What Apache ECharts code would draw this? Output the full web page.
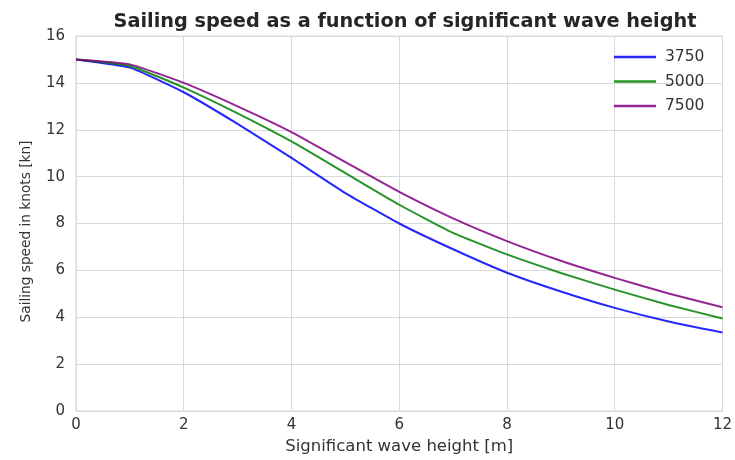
<!DOCTYPE html>
<html>
<head>
<meta charset="utf-8">
<script src="https://cdn.jsdelivr.net/npm/echarts@6/dist/echarts.min.js"></script>
<style>
  html, body { margin: 0; padding: 0; background: #fff; }
  #chart { width: 735px; height: 460px; }
</style>
</head>
<body>
<div id="chart"></div>
<script>
// wave height [m]
const waveHeight = [0, 1, 2, 3, 4, 5, 6, 7, 8, 9, 10, 11, 12]
const seriesNames = ['3750', '5000', '7500']
// sailing speed [kn]
const speed3750 = [15.0, 14.65, 13.6, 12.25, 10.8, 9.3, 8.0, 6.9, 5.9, 5.1, 4.4, 3.82, 3.35]
const speed5000 = [15.0, 14.72, 13.8, 12.7, 11.5, 10.15, 8.8, 7.6, 6.68, 5.89, 5.18, 4.52, 3.95]
const speed7500 = [15.0, 14.79, 14.0, 13.0, 11.9, 10.62, 9.35, 8.22, 7.25, 6.41, 5.68, 5.01, 4.43]
const lineColors = ['rgba(0,0,255,0.85)', 'rgba(0,128,0,0.85)', 'rgba(128,0,128,0.85)']

const pairs = arr => waveHeight.map((x, i) => [x, arr[i]])
const font = 'DejaVu Sans, sans-serif'
const gridColor = '#d9d9d9'

const chart = echarts.init(document.getElementById('chart'))

chart.setOption({
  animation: false,
  textStyle: { fontFamily: font },
  title: {
    text: 'Sailing speed as a function of significant wave height',
    left: 400,
    top: 7,
    textAlign: 'center',
    textStyle: { fontFamily: font, fontSize: 19.3, fontWeight: 'bold', color: '#262626' }
  },
  legend: {
    orient: 'vertical',
    left: 609,
    top: 43,
    icon: 'rect',
    itemWidth: 42,
    itemHeight: 2.5,
    itemGap: 6.5,
    textStyle: { fontFamily: font, fontSize: 15.5, color: '#333', lineHeight: 18, padding: [0, 0, 0, 4] },
    data: seriesNames
  },
  grid: { left: 76, right: 11, top: 36, bottom: 46, show: true, borderColor: gridColor, borderWidth: 1 },
  xAxis: {
    type: 'value',
    min: 0, max: 12, interval: 2,
    name: 'Significant wave height [m]',
    nameLocation: 'middle',
    nameGap: 27,
    nameTextStyle: { fontFamily: font, fontSize: 16.5, color: '#333' },
    axisLine: { show: true, lineStyle: { color: gridColor } },
    axisTick: { show: false },
    axisLabel: { fontFamily: font, fontSize: 15, color: '#333', margin: 7 },
    splitLine: { show: true, lineStyle: { color: gridColor, width: 1 } }
  },
  yAxis: {
    type: 'value',
    min: 0, max: 16, interval: 2,
    name: 'Sailing speed in knots [kn]',
    nameLocation: 'middle',
    nameGap: 43,
    nameTextStyle: { fontFamily: font, fontSize: 13.7, color: '#333', padding: [0, 16, 0, 0] },
    axisLine: { show: true, lineStyle: { color: gridColor } },
    axisTick: { show: false },
    axisLabel: { fontFamily: font, fontSize: 15, color: '#333', margin: 11 },
    splitLine: { show: true, lineStyle: { color: gridColor, width: 1 } }
  },
  series: [speed3750, speed5000, speed7500].map((arr, i) => ({
    name: seriesNames[i],
    type: 'line',
    data: pairs(arr),
    symbol: 'none',
    smooth: 0.15,
    color: lineColors[i],
    lineStyle: { width: 2, color: lineColors[i] }
  }))
})
</script>
</body>
</html>
